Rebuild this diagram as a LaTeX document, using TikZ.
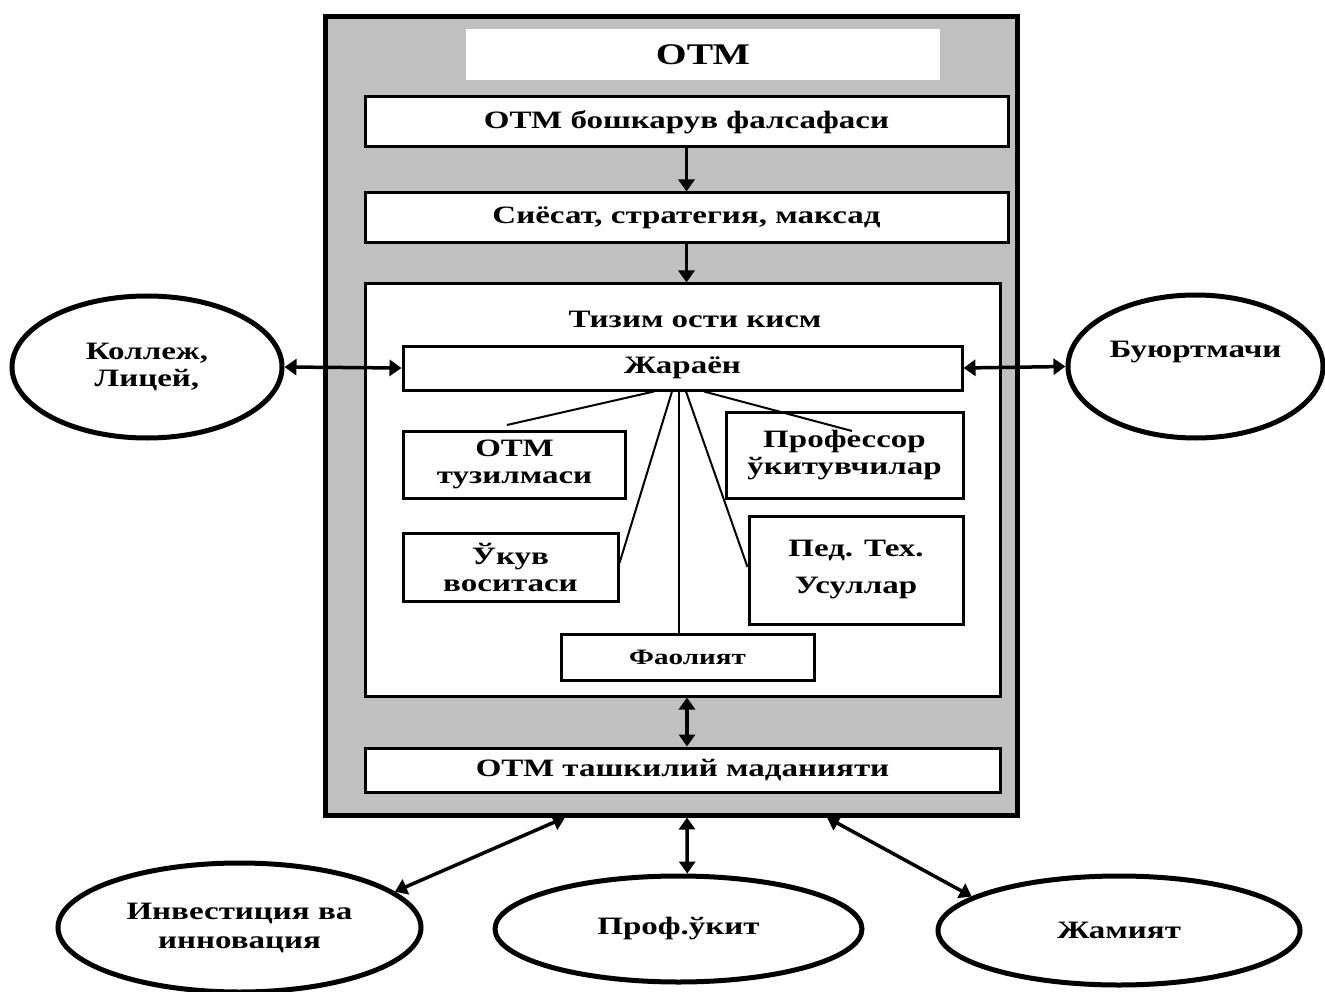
\documentclass[tikz,border=0pt]{standalone}
\usepackage{fontspec}
\setmainfont{Liberation Serif}[FakeStretch=1.32]
\usetikzlibrary{arrows.meta,shapes.geometric}
\definecolor{panelgray}{RGB}{192,192,192}
\begin{document}
\begin{tikzpicture}[x=1pt,y=-1pt,
  every node/.style={font=\bfseries\fontsize{25}{27}\selectfont, inner sep=0pt, align=center},
  box/.style={draw, line width=3pt, fill=white},
  oval/.style={ellipse, draw, line width=5pt, fill=white},
  link/.style={line width=2pt},
  flow/.style={line width=3.5pt, -{Triangle[width=16pt,length=12pt]}},
  both/.style={line width=3.5pt, {Triangle[width=16pt,length=12pt]}-{Triangle[width=16pt,length=12pt]}},
]
\useasboundingbox (0,0) rectangle (1325,992);
\fill[white] (0,0) rectangle (1325,992);

% grey frame of the university
\node[draw, line width=5pt, fill=panelgray, minimum width=692pt, minimum height=798pt] (otm) at (671,416) {};
\node[fill=white, minimum width=474pt, minimum height=51pt, font=\bfseries\fontsize{30}{32}\selectfont] (title) at (703,54.5) {ОТМ};

% vertical chain
\node[box, minimum width=643pt, minimum height=50pt] (box1) at (686.5,122) {ОТМ бошкарув фалсафаси};
\node[box, minimum width=643pt, minimum height=50pt] (box2) at (686.5,218) {Сиёсат, стратегия, максад};
\node[box, minimum width=635pt, minimum height=412pt] (sub) at (682.5,490) {};
\node (subtitle) at (695,319) {Тизим ости кисм};
\node[box, minimum width=635pt, minimum height=44pt] (cult) at (682.5,770) {ОТМ ташкилий маданияти};

% subsystem parts
\node[box, minimum width=559pt, minimum height=44pt] (jar) at (682.5,368) {Жараён};
\node[box, minimum width=222pt, minimum height=67pt] (struct) at (514.5,464.5) {ОТМ\\тузилмаси};
\node[box, minimum width=237pt, minimum height=86pt] (prof) at (844.5,455) {Профессор\\ўкитувчилар};
\node[box, minimum width=215pt, minimum height=68pt] (ukuv) at (510.5,567) {Ўкув\\воситаси};
\node[box, minimum width=214pt, minimum height=108pt] (ped) at (856,570) {Пед. Тех.\\[10pt]Усуллар};
\node[box, minimum width=253pt, minimum height=46pt, font=\bfseries\fontsize{22}{24}\selectfont] (fao) at (687.5,657) {Фаолият};

% outside partners
\node[oval, minimum width=270pt, minimum height=142pt] (coll) at (147,367) {Коллеж,\\Лицей,};
\node[oval, minimum width=255pt, minimum height=143pt] (buy) at (1195.5,366.5) {Буюртмачи\\\strut};
\node[oval, minimum width=363pt, minimum height=129pt] (inv) at (239.5,927.5) {Инвестиция ва\\[2pt]инновация};
\node[oval, minimum width=367pt, minimum height=106pt] (pu) at (678.5,929) {Проф.ўкит};
\node[oval, minimum width=362pt, minimum height=109pt] (jam) at (1119,930.5) {Жамият};

% links inside the subsystem
\coordinate (t1) at (507,425);
\coordinate (t5) at (852,431);
\draw[link] ([xshift=-28.5pt]jar.south) -- (t1);
\draw[link] ([xshift=-10.5pt]jar.south) -- ([yshift=4pt]ukuv.east);
\draw[link] ([xshift=-3.5pt]jar.south) -- ([xshift=-8.5pt]fao.north);
\draw[link] ([xshift=3.5pt]jar.south) -- ([yshift=3pt]ped.west);
\draw[link] ([xshift=21.5pt]jar.south) -- (t5);

% arrows
\draw[flow] (box1.south) -- (box2.north);
\draw[flow] (box2.south) -- (box2.south |- sub.north);
\draw[both] ([xshift=4.5pt]sub.south) -- ([xshift=4.5pt]cult.north);
\draw[both] (coll.east) -- (jar.west);
\draw[both] (jar.east) -- (buy.west);
\draw[both] ([xshift=-106pt]otm.south) -- (inv.13);
\draw[both] ([xshift=16pt]otm.south) -- (pu.81);
\draw[both] ([xshift=156pt]otm.south) -- (jam.167);
\end{tikzpicture}
\end{document}
